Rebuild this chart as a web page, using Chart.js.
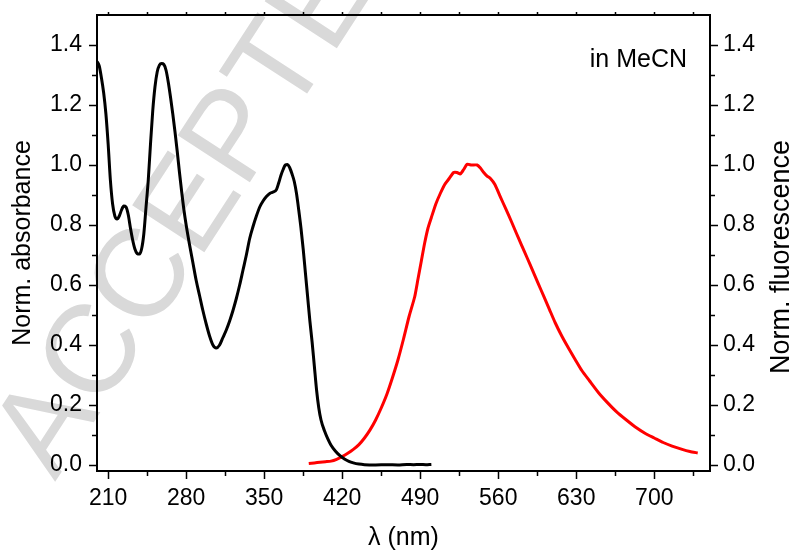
<!DOCTYPE html>
<html>
<head>
<meta charset="utf-8">
<script src="https://cdn.jsdelivr.net/npm/chart.js@4.4.1/dist/chart.umd.min.js"></script>
<style>
  html, body { margin: 0; padding: 0; background: #fff; }
  canvas { display: block; }
</style>
</head>
<body>
<canvas id="chart" width="795" height="556"></canvas>
<script>
// absorbance (black)
const absWl = [200, 202, 204, 206, 208, 210, 212, 214, 216, 218, 220, 222, 224, 226, 228, 230, 232, 234, 236, 238,
  240, 242, 244, 246, 248, 250, 252, 254, 256, 258, 260, 262, 264, 266, 268, 270, 272, 274, 276, 278,
  280, 283, 286, 289, 292, 295, 298, 301, 304, 307, 310, 313, 316, 319, 322, 325, 328, 331, 334, 337,
  340, 343, 346, 349, 352, 355, 358, 361, 363, 365, 367, 369, 371, 373, 375, 377, 379, 381, 383, 385,
  387, 389, 391, 393, 395, 397, 399, 401, 404, 407, 410, 414, 418, 422, 426, 430, 435, 440, 450, 460,
  470, 478, 484, 490, 495, 500]
const absVal = [1.345, 1.33, 1.29, 1.24, 1.17, 1.07, 0.95, 0.87, 0.83, 0.82, 0.83, 0.85, 0.863, 0.86, 0.835, 0.79, 0.75, 0.72, 0.705, 0.703,
  0.72, 0.77, 0.86, 0.95, 1.07, 1.18, 1.26, 1.31, 1.333, 1.338, 1.335, 1.315, 1.275, 1.225, 1.17, 1.11, 1.045, 0.975, 0.91, 0.85,
  0.80, 0.735, 0.675, 0.615, 0.565, 0.515, 0.47, 0.43, 0.40, 0.39, 0.40, 0.425, 0.45, 0.48, 0.515, 0.555, 0.60, 0.65, 0.70, 0.755,
  0.795, 0.83, 0.86, 0.88, 0.895, 0.905, 0.91, 0.918, 0.94, 0.965, 0.985, 1.0, 1.002, 0.99, 0.97, 0.945, 0.905, 0.85, 0.79, 0.72,
  0.64, 0.56, 0.48, 0.41, 0.33, 0.25, 0.19, 0.15, 0.115, 0.088, 0.066, 0.046, 0.031, 0.020, 0.012, 0.007, 0.003, 0.001, 0.0, 0.001,
  0.0, 0.002, 0.001, 0.002, 0.001, 0.002]

// fluorescence (red)
const flWl = [390, 395, 400, 405, 410, 415, 420, 425, 430, 435, 440, 445, 450, 455, 460, 465, 470, 475, 480, 485,
  488, 491, 494, 497, 500, 504, 508, 512, 516, 520, 523, 526, 529, 532, 536, 541, 544, 547, 550, 553,
  557, 562, 567, 572, 576, 581, 586, 591, 596, 601, 606, 611, 617, 623, 629, 635, 642, 650, 658, 666,
  675, 684, 692, 700, 708, 716, 725, 732, 739]
const flVal = [0.005, 0.007, 0.009, 0.011, 0.013, 0.019, 0.028, 0.039, 0.052, 0.068, 0.09, 0.117, 0.15, 0.19, 0.235, 0.29, 0.35, 0.42, 0.495, 0.56,
  0.62, 0.68, 0.74, 0.79, 0.825, 0.87, 0.905, 0.935, 0.955, 0.975, 0.975, 0.97, 0.985, 1.002, 1.0, 1.0, 0.99, 0.975, 0.963, 0.955,
  0.935, 0.893, 0.852, 0.81, 0.775, 0.732, 0.69, 0.647, 0.604, 0.561, 0.518, 0.475, 0.43, 0.39, 0.352, 0.315, 0.28, 0.241, 0.208, 0.178,
  0.15, 0.124, 0.105, 0.09, 0.075, 0.063, 0.052, 0.045, 0.04]

const xMajor = [210, 280, 350, 420, 490, 560, 630, 700]
const xMinor = [245, 315, 385, 455, 525, 595, 665, 735]
const yMajor = [0, 0.2, 0.4, 0.6, 0.8, 1.0, 1.2, 1.4]
const yMinor = [0.1, 0.3, 0.5, 0.7, 0.9, 1.1, 1.3]

const FONT = '"Liberation Sans", Arial, Helvetica, sans-serif'
Chart.defaults.font.family = FONT
Chart.defaults.color = '#000'

const pts = (xs, ys) => xs.map((x, i) => ({x: x, y: ys[i]}))

// watermark, axis frame, minor ticks and the free texts
const extras = {
  id: 'extras',
  beforeDraw(chart) {
    const ctx = chart.ctx
    ctx.save()
    ctx.fillStyle = '#d9d9d9'
    ctx.font = '125px ' + FONT
    ctx.translate(55, 482)
    ctx.rotate(-57 * Math.PI / 180)
    ctx.fillText('ACCEPTED', 0, 0)
    ctx.restore()
  },
  afterDraw(chart) {
    const {ctx, chartArea: a, scales} = chart
    const x = scales.x, y = scales.y
    ctx.save()
    ctx.strokeStyle = '#000'
    ctx.lineWidth = 2
    ctx.beginPath()
    ctx.moveTo(a.left - 1, a.top)
    ctx.lineTo(a.right + 1, a.top)
    ctx.stroke()

    ctx.lineWidth = 1.5
    ctx.beginPath()
    const xt = (v, len) => {
      const px = Math.round(x.getPixelForValue(v)) + 0.5
      ctx.moveTo(px, a.bottom)
      ctx.lineTo(px, a.bottom + len)
      ctx.moveTo(px, a.top)
      ctx.lineTo(px, a.top - 3)
    }
    xMajor.forEach(v => xt(v, 8))
    xMinor.forEach(v => xt(v, 5))
    const yt = (v, len) => {
      const py = Math.round(y.getPixelForValue(v)) + 0.5
      ctx.moveTo(a.left, py)
      ctx.lineTo(a.left - len, py)
      ctx.moveTo(a.right, py)
      ctx.lineTo(a.right + len, py)
    }
    yMajor.forEach(v => yt(v, 8))
    yMinor.forEach(v => yt(v, 5))
    ctx.stroke()

    ctx.fillStyle = '#000'
    ctx.font = '25px ' + FONT
    ctx.textAlign = 'right'
    ctx.textBaseline = 'alphabetic'
    ctx.fillText('in MeCN', 687, 67)

    ctx.font = '27px ' + FONT
    ctx.translate(782, 257)
    ctx.rotate(-Math.PI / 2)
    ctx.textAlign = 'center'
    ctx.textBaseline = 'middle'
    ctx.fillText('Norm. fluorescence', 0, 0)
    ctx.restore()
  }
}

const setTicks = list => scale => { scale.ticks = list.map(v => ({value: v})) }
const fitY = w => s => { s.width = w; s.paddingTop = 0; s.paddingBottom = 0 }

new Chart(document.getElementById('chart'), {
  type: 'line',
  data: {
    datasets: [
      {
        label: 'absorbance',
        data: pts(absWl, absVal),
        borderColor: '#000',
        borderWidth: 3,
        pointRadius: 0,
        cubicInterpolationMode: 'monotone',
        yAxisID: 'y',
      },
      {
        label: 'fluorescence',
        data: pts(flWl, flVal),
        borderColor: '#ff0000',
        borderWidth: 3,
        pointRadius: 0,
        tension: 0.2,
        yAxisID: 'y2',
      },
    ]
  },
  options: {
    responsive: false,
    animation: false,
    events: [],
    layout: {padding: {top: 15, left: 0, right: 0, bottom: 0}},
    plugins: {legend: {display: false}, tooltip: {enabled: false}},
    scales: {
      x: {
        type: 'linear',
        min: 200,
        max: 750,
        afterBuildTicks: setTicks(xMajor),
        afterFit: s => { s.height = 85; s.paddingLeft = 0; s.paddingRight = 0 },
        grid: {display: false, drawTicks: false},
        border: {display: true, color: '#000', width: 2},
        ticks: {font: {size: 23}, padding: 14, maxRotation: 0, callback: v => String(v)},
        title: {display: true, text: 'λ (nm)', font: {size: 25}, padding: {top: 0, bottom: 3}},
      },
      y: {
        position: 'left',
        min: -0.02,
        max: 1.5,
        afterBuildTicks: setTicks(yMajor),
        afterFit: fitY(97),
        grid: {display: false, drawTicks: false},
        border: {display: true, color: '#000', width: 2},
        ticks: {font: {size: 23}, padding: 15, callback: v => v.toFixed(1)},
        title: {display: true, text: 'Norm. absorbance', font: {size: 25}, padding: {top: 8, bottom: 0}},
      },
      y2: {
        position: 'right',
        min: -0.02,
        max: 1.5,
        afterBuildTicks: setTicks(yMajor),
        afterFit: fitY(85),
        grid: {display: false, drawTicks: false},
        border: {display: true, color: '#000', width: 2},
        ticks: {font: {size: 23}, padding: 13, callback: v => v.toFixed(1)},
      },
    }
  },
  plugins: [extras],
})
</script>
</body>
</html>
